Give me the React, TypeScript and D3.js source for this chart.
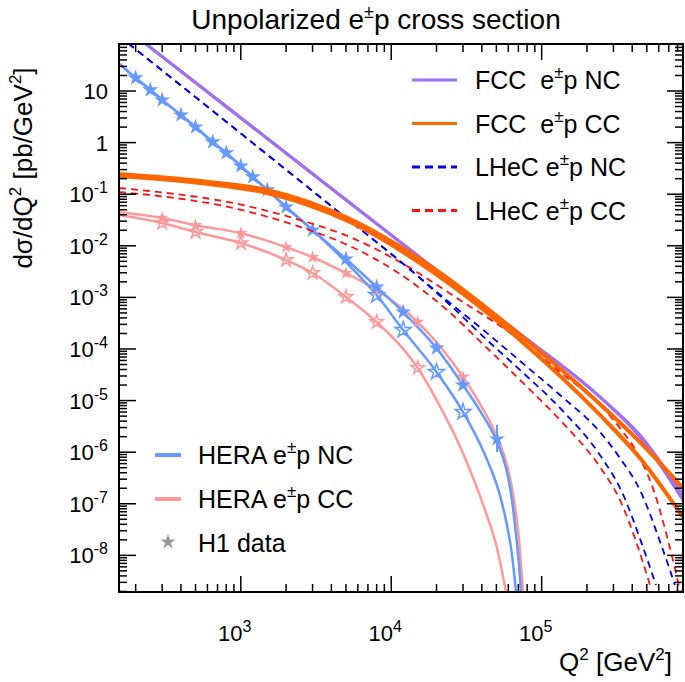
import React from "react";
import * as d3 from "d3";

// HERA (solid) — e- and e+ share the low Q2 part
const heraNcEmQ2 = [155, 200, 250, 300, 400, 500, 650, 800, 1000, 1200, 1500, 2000, 3000, 5000, 8000, 12000, 20000, 30000, 38900, 50470, 57910, 63510, 67540, 70710, 72880];
const heraNcEmXs = [34, 17.9, 10.5, 6.7, 3.43, 2.0, 1.03, 0.63, 0.352, 0.216, 0.121, 0.0565, 0.0202, 5.55e-3, 1.59e-3, 5.2e-4, 1.04e-4, 2.0e-5, 6.29e-6, 1.58e-6, 4.94e-7, 1.185e-7, 2.49e-8, 6.52e-9, 1.95e-9];
const heraNcEpQ2 = [155, 200, 250, 300, 400, 500, 650, 800, 1000, 1200, 1500, 2000, 3000, 5000, 8000, 12000, 20000, 30000, 42000, 52030, 58800, 63510, 67540];
const heraNcEpXs = [34, 17.9, 10.5, 6.7, 3.43, 2.0, 1.03, 0.63, 0.352, 0.216, 0.121, 0.0565, 0.0202, 4.85e-3, 1.11e-3, 2.33e-4, 3.58e-5, 6.0e-6, 8.82e-7, 1.69e-7, 3.88e-8, 1.02e-8, 1.95e-9];
const heraCcEmQ2 = [155, 300, 500, 1000, 2000, 3000, 5000, 8000, 15000, 30000, 38900, 50470, 58800, 65500, 70710, 75140];
const heraCcEmXs = [0.0452, 0.0346, 0.0251, 0.0175, 9.4e-3, 6.0e-3, 2.94e-3, 1.39e-3, 3.33e-4, 2.87e-5, 8.59e-6, 1.97e-6, 5.65e-7, 1.185e-7, 1.99e-8, 1.95e-9];
const heraCcEpQ2 = [155, 300, 500, 1000, 2000, 3000, 5000, 8000, 14840, 22090, 27790, 34430, 42000, 50470, 57910];
const heraCcEpXs = [0.0395, 0.0277, 0.0185, 0.0113, 5.3e-3, 2.97e-3, 1.02e-3, 3.33e-4, 4.48e-5, 6.0e-6, 1.58e-6, 3.61e-7, 7.6e-8, 1.39e-8, 1.95e-9];

// H1 data points
const h1NcEmQ2 = [200, 250, 300, 400, 500, 650, 800, 1000, 1200, 1500, 2000, 3000, 5000, 8000, 12000, 20000, 30000, 50470];
const h1NcEmXs = [17.9, 10.5, 6.7, 3.43, 2.0, 1.03, 0.63, 0.352, 0.216, 0.121, 0.0565, 0.0202, 5.55e-3, 1.59e-3, 5.2e-4, 1.04e-4, 2.0e-5, 1.8e-6];
const h1NcEpQ2 = [8000, 12000, 20000, 30000];
const h1NcEpXs = [1.11e-3, 2.33e-4, 3.58e-5, 6.0e-6];
const h1CcEmQ2 = [300, 500, 1000, 2000, 3000, 5000, 8000, 15000, 30000];
const h1CcEmXs = [0.0346, 0.0251, 0.0175, 9.4e-3, 6.0e-3, 2.94e-3, 1.39e-3, 3.33e-4, 2.87e-5];
const h1CcEpQ2 = [300, 500, 1000, 2000, 3000, 5000, 8000, 15000];
const h1CcEpXs = [0.0277, 0.0185, 0.0113, 5.3e-3, 2.97e-3, 1.02e-3, 3.33e-4, 4.3e-5];
const h1ErrQ2 = 50470;
const h1ErrLo = 1.0e-6;
const h1ErrHi = 3.4e-6;

// LHeC (dashed)
const lhecNcEmQ2 = [155, 184, 4560, 12740, 24600, 43300, 71800, 132300, 243900, 331400, 449900, 630100, 768900];
const lhecNcEmXs = [116, 77.9, 0.0432, 3.88e-3, 7.79e-4, 2.04e-4, 5.85e-5, 1.285e-5, 2.46e-6, 7.72e-7, 1.85e-7, 1.455e-8, 2.67e-9];
const lhecNcEpQ2 = [155, 184, 4560, 12740, 24600, 43300, 71800, 132300, 243900, 341700, 471100, 574700];
const lhecNcEpXs = [116, 77.9, 0.0432, 3.88e-3, 7.12e-4, 1.494e-4, 3.92e-5, 7.19e-6, 8.82e-7, 1.69e-7, 1.455e-8, 2.67e-9];
const lhecCcEmQ2 = [155, 324, 889, 2480, 5320, 11430, 28600, 71800, 132300, 243900, 331400, 449900, 566000, 690600, 829700];
const lhecCcEmXs = [0.132, 0.1055, 0.0675, 0.0316, 0.0148, 4.85e-3, 8.9e-4, 1.494e-4, 3.58e-5, 8.22e-6, 2.94e-6, 7.72e-7, 1.548e-7, 1.99e-8, 2.14e-9];
const lhecCcEpQ2 = [155, 324, 889, 2480, 5320, 11430, 23490, 43300, 71800, 132300, 243900, 331400, 436500, 524300];
const lhecCcEpXs = [0.110, 0.0883, 0.0541, 0.0232, 9.9e-3, 2.84e-3, 5.7e-4, 1.046e-4, 2.51e-5, 4.21e-6, 5.16e-7, 1.185e-7, 1.455e-8, 2.67e-9];

// FCC (solid, thick)
const fccNcEmQ2 = [155, 5320, 21100, 71800, 243900, 449900, 868900];
const fccNcEmXs = [208, 0.0675, 2.97e-3, 1.953e-4, 1.174e-5, 2.154e-6, 1.481e-7];
const fccNcEpQ2 = [155, 5320, 21100, 71800, 243900, 449900, 868900];
const fccNcEpXs = [208, 0.0675, 2.97e-3, 1.953e-4, 1.174e-5, 1.97e-6, 1.185e-7];
const fccCcEmQ2 = [155, 537, 1496, 5320, 18960, 71800, 243900, 449900, 868900];
const fccCcEmXs = [0.2463, 0.1802, 0.1206, 0.0331, 3.713e-3, 1.868e-4, 8.59e-6, 1.576e-6, 2.02e-7];
const fccCcEpQ2 = [155, 537, 1496, 5320, 18960, 71800, 243900, 449900, 868900];
const fccCcEpXs = [0.2253, 0.1648, 0.1055, 0.0289, 3.107e-3, 1.494e-4, 5.26e-6, 7.72e-7, 5.55e-8];

const xMajor = [1e3, 1e4, 1e5];
const xLabelExp = ["3", "4", "5"];
const yMajor = [1e-8, 1e-7, 1e-6, 1e-5, 1e-4, 1e-3, 1e-2, 1e-1, 1, 10];
const yLabelExp = ["-8", "-7", "-6", "-5", "-4", "-3", "-2", "-1", "", ""];
const yLabelBase = ["10", "10", "10", "10", "10", "10", "10", "10", "1", "10"];

const topLegend = [
  { name: "FCC  e", tail: "p NC", color: "#a070f0", dash: null },
  { name: "FCC  e", tail: "p CC", color: "#ff6600", dash: null },
  { name: "LHeC e", tail: "p NC", color: "#0000ee", dash: "8,5" },
  { name: "LHeC e", tail: "p CC", color: "#ff1010", dash: "8,5" },
];

const L = 119, R = 683, T = 44, B = 592;
const FONT = "Liberation Sans, Arial, Helvetica, sans-serif";

export default function App() {
  const x = d3.scaleLog().domain([155, 8.7e5]).range([L, R]);
  const y = d3.scaleLog().domain([1.95e-9, 81.5]).range([B, T]);

  const line = (qs: number[], vs: number[]) =>
    d3.line<number>()
      .x((_, i) => x(qs[i]))
      .y((v) => y(v))
      .curve(d3.curveMonotoneX)(vs) || "";

  const star = (size: number) => d3.symbol(d3.symbolStar, size)() || "";

  const xMinor: number[] = [];
  for (let d = 2; d <= 5; d++) for (let k = 2; k <= 9; k++) {
    const v = k * Math.pow(10, d);
    if (v > 155 && v < 8.7e5) xMinor.push(v);
  }
  const yMinor: number[] = [];
  for (let d = -9; d <= 1; d++) for (let k = 2; k <= 9; k++) {
    const v = k * Math.pow(10, d);
    if (v > 1.95e-9 && v < 81.5) yMinor.push(v);
  }

  const nc = "#6699ff";
  const cc = "#ff9999";

  return (
    <svg width={685} height={682} style={{ position: "absolute", left: 0, top: 0, background: "white" }}
      fontFamily={FONT}>
      <defs>
        <clipPath id="plot"><rect x={L} y={T} width={R - L} height={B - T} /></clipPath>
      </defs>

      <text x={376} y={29} fontSize={28} textAnchor="middle">
        Unpolarized e<tspan fontSize={18} dy={-11}>±</tspan><tspan dy={11}>p cross section</tspan>
      </text>

      <g clipPath="url(#plot)" fill="none">
        <path d={line(heraCcEmQ2, heraCcEmXs)} stroke={cc} strokeWidth={2.5} />
        <path d={line(heraCcEpQ2, heraCcEpXs)} stroke={cc} strokeWidth={2.5} />
        <path d={line(heraNcEmQ2, heraNcEmXs)} stroke={nc} strokeWidth={2.5} />
        <path d={line(heraNcEpQ2, heraNcEpXs)} stroke={nc} strokeWidth={2.5} />

        {h1CcEmQ2.map((q, i) => (
          <path key={"ccm" + i} d={star(55)} transform={`translate(${x(q)},${y(h1CcEmXs[i])})`} fill={cc} />
        ))}
        {h1CcEpQ2.map((q, i) => (
          <path key={"ccp" + i} d={star(55)} transform={`translate(${x(q)},${y(h1CcEpXs[i])})`} fill="none" stroke={cc} strokeWidth={1.5} />
        ))}
        {h1NcEmQ2.map((q, i) => (
          <path key={"ncm" + i} d={star(80)} transform={`translate(${x(q)},${y(h1NcEmXs[i])})`} fill={nc} />
        ))}
        {h1NcEpQ2.map((q, i) => (
          <path key={"ncp" + i} d={star(80)} transform={`translate(${x(q)},${y(h1NcEpXs[i])})`} fill="none" stroke={nc} strokeWidth={1.5} />
        ))}
        <line x1={x(h1ErrQ2)} x2={x(h1ErrQ2)} y1={y(h1ErrLo)} y2={y(h1ErrHi)} stroke={nc} strokeWidth={2} />

        <path d={line(lhecCcEmQ2, lhecCcEmXs)} stroke="#ff1010" strokeWidth={1.8} strokeDasharray="7,5" />
        <path d={line(lhecCcEpQ2, lhecCcEpXs)} stroke="#ff1010" strokeWidth={1.8} strokeDasharray="7,5" />
        <path d={line(lhecNcEmQ2, lhecNcEmXs)} stroke="#0000ee" strokeWidth={1.8} strokeDasharray="7,5" />
        <path d={line(lhecNcEpQ2, lhecNcEpXs)} stroke="#0000ee" strokeWidth={1.8} strokeDasharray="7,5" />

        <path d={line(fccNcEmQ2, fccNcEmXs)} stroke="#a070f0" strokeWidth={3} />
        <path d={line(fccNcEpQ2, fccNcEpXs)} stroke="#a070f0" strokeWidth={3} />
        <path d={line(fccCcEmQ2, fccCcEmXs)} stroke="#ff6600" strokeWidth={4} />
        <path d={line(fccCcEpQ2, fccCcEpXs)} stroke="#ff6600" strokeWidth={4} />
      </g>

      {/* frame and ticks */}
      <g stroke="black" strokeWidth={1.5}>
        {xMajor.map((v) => (
          <g key={"xM" + v}>
            <line x1={x(v)} x2={x(v)} y1={B} y2={B - 16} />
            <line x1={x(v)} x2={x(v)} y1={T} y2={T + 16} />
          </g>
        ))}
        {xMinor.map((v) => (
          <g key={"xm" + v}>
            <line x1={x(v)} x2={x(v)} y1={B} y2={B - 8} />
            <line x1={x(v)} x2={x(v)} y1={T} y2={T + 8} />
          </g>
        ))}
        {yMajor.map((v) => (
          <g key={"yM" + v}>
            <line x1={L} x2={L + 17} y1={y(v)} y2={y(v)} />
            <line x1={R} x2={R - 16} y1={y(v)} y2={y(v)} />
          </g>
        ))}
        {yMinor.map((v) => (
          <g key={"ym" + v}>
            <line x1={L} x2={L + 8} y1={y(v)} y2={y(v)} />
            <line x1={R} x2={R - 8} y1={y(v)} y2={y(v)} />
          </g>
        ))}
        <rect x={L} y={T} width={R - L} height={B - T} fill="none" strokeWidth={2} />
      </g>

      {xMajor.map((v, i) => (
        <text key={"xl" + v} x={x(v) - 6} y={641} fontSize={22} textAnchor="middle">
          10<tspan fontSize={16} dy={-9}>{xLabelExp[i]}</tspan>
        </text>
      ))}
      {yMajor.map((v, i) => (
        <text key={"yl" + v} x={108} y={y(v) + 8} fontSize={22} textAnchor="end">
          {yLabelBase[i]}
          {yLabelExp[i] && <tspan fontSize={16} dy={-9}>{yLabelExp[i]}</tspan>}
        </text>
      ))}

      <text x={672} y={671} fontSize={26} textAnchor="end">
        Q<tspan fontSize={17} dy={-11}>2</tspan><tspan dy={11}> [GeV</tspan><tspan fontSize={17} dy={-11}>2</tspan><tspan dy={11}>]</tspan>
      </text>
      <text transform="translate(32,168) rotate(-90)" fontSize={26} textAnchor="middle">
        dσ/dQ<tspan fontSize={17} dy={-11}>2</tspan><tspan dy={11}> [pb/GeV</tspan><tspan fontSize={17} dy={-11}>2</tspan><tspan dy={11}>]</tspan>
      </text>

      {/* top-right legend */}
      {topLegend.map((e, i) => {
        const ly = 80 + i * 43.5;
        return (
          <g key={"tl" + i}>
            <line x1={412} x2={457} y1={ly} y2={ly} stroke={e.color} strokeWidth={3}
              strokeDasharray={e.dash || undefined} />
            <text x={475} y={ly + 9} fontSize={25} style={{ whiteSpace: "pre" }}>
              {e.name}<tspan fontSize={17} dy={-11}>±</tspan><tspan dy={11}>{e.tail}</tspan>
            </text>
          </g>
        );
      })}

      {/* bottom-left legend */}
      <line x1={155} x2={181} y1={455} y2={455} stroke={nc} strokeWidth={4} />
      <text x={198} y={464} fontSize={25}>
        HERA e<tspan fontSize={17} dy={-11}>±</tspan><tspan dy={11}>p NC</tspan>
      </text>
      <line x1={155} x2={181} y1={499} y2={499} stroke={cc} strokeWidth={4} />
      <text x={198} y={508} fontSize={25}>
        HERA e<tspan fontSize={17} dy={-11}>±</tspan><tspan dy={11}>p CC</tspan>
      </text>
      <path d={star(70)} transform="translate(168,542)" fill="#999999" />
      <text x={198} y={552} fontSize={25}>H1 data</text>
    </svg>
  );
}
